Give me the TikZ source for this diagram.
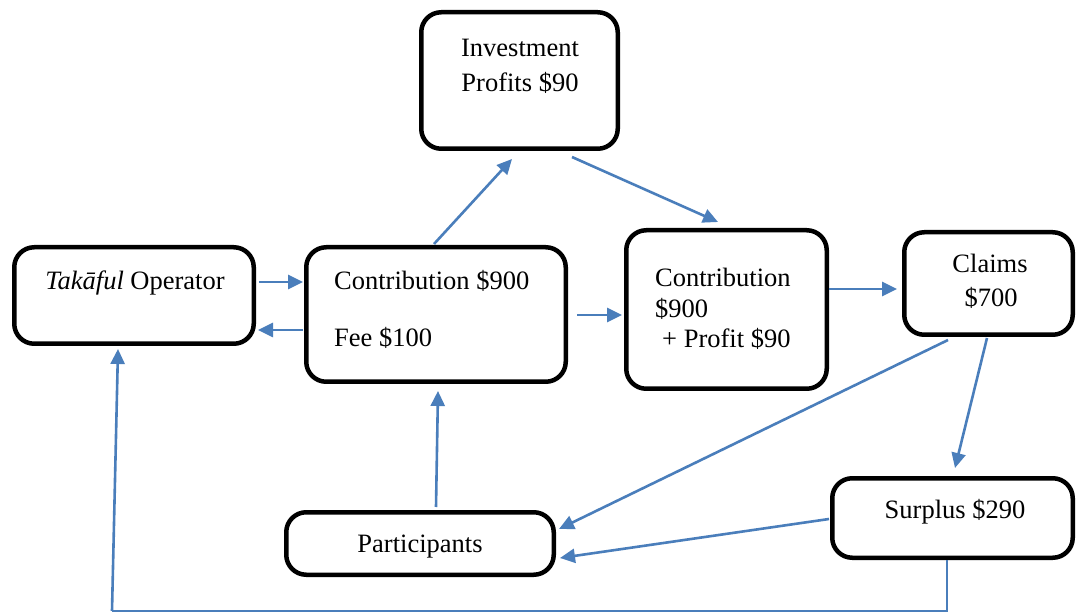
\documentclass[tikz,border=0pt]{standalone}
\usepackage{fontspec}
\setmainfont{Liberation Serif}
\usetikzlibrary{arrows.meta}
\definecolor{flow}{RGB}{74,126,187}
\begin{document}
\begin{tikzpicture}[x=1pt,y=-1pt,
  box/.style={draw=black,line width=4.5pt,rounded corners=20pt,fill=white,inner sep=0pt},
  lbl/.style={inner sep=0pt,font=\fontsize{26.5}{31}\selectfont},
  arr/.style={draw=flow,line width=2.6pt,-{Triangle[length=15pt,width=14pt]}},
  thin/.style={draw=flow,line width=1.4pt}]
\useasboundingbox (0,0) rectangle (1077,612);

% boxes
\node[box,minimum width=239.5pt,minimum height=96.5pt]  (tak) at (134,295.5) {};
\node[box,minimum width=259.5pt,minimum height=134.5pt] (con) at (436,314.5) {};
\node[box,minimum width=196.5pt,minimum height=136.5pt] (inv) at (519.5,80.5) {};
\node[box,minimum width=200.5pt,minimum height=158.5pt] (cp)  at (726.5,309.5) {};
\node[box,minimum width=168.5pt,minimum height=102.5pt] (clm) at (988.5,283.5) {};
\node[box,minimum width=240.5pt,minimum height=79.5pt]  (sur) at (952.5,518) {};
\node[box,minimum width=267.5pt,minimum height=62.5pt]  (par) at (420,543.5) {};

% texts
\node[lbl,anchor=base] (takT) at (135,290) {\textit{Takāful} Operator};
\node[lbl,anchor=base west] (conA) at (334,290) {Contribution \$900};
\node[lbl,anchor=base west] (conB) at (334,347) {Fee \$100};
\node[lbl,anchor=base] (invA) at (520,57) {Investment};
\node[lbl,anchor=base] (invB) at (520,92) {Profits \$90};
\node[lbl,anchor=base west] (cpA) at (655,287) {Contribution};
\node[lbl,anchor=base west] (cpB) at (655,318) {\$900};
\node[lbl,anchor=base west] (cpC) at (662,348) {+ Profit \$90};
\node[lbl,anchor=base] (clmA) at (990,273) {Claims};
\node[lbl,anchor=base] (clmB) at (991,307) {\$700};
\node[lbl,anchor=base] (surT) at (955,518) {Surplus \$290};
\node[lbl,anchor=base] (parT) at (420,552) {Participants};

% flows
\draw[arr] ([shift={(3,-13.5)}]tak.east) -- ([shift={(-1,-32.5)}]con.west);
\draw[arr] ([shift={(-1,15.5)}]con.west) -- ([shift={(2,34.5)}]tak.east);
\draw[arr] ([shift={(-2,-1)}]con.north) -- ([shift={(-7.5,8)}]inv.south);
\draw[arr] ([shift={(52.5,6)}]inv.south) -- ([shift={(-8.5,-6)}]cp.north);
\draw[arr] ([shift={(9,0.5)}]con.east) -- ([shift={(-2,5.5)}]cp.west);
\draw[arr] ([shift={(0,-20.5)}]cp.east) -- ([shift={(-5,5.5)}]clm.west);
\draw[arr] ([shift={(-40.5,3)}]clm.south) -- ([shift={(3,-14.5)}]par.east);
\draw[arr] ([shift={(-1.5,1)}]clm.south) -- ([shift={(2.5,-8)}]sur.north);
\draw[arr] ([shift={(-1,1)}]sur.west) -- ([shift={(4,14.5)}]par.east);
\draw[arr] ([shift={(16,-3)}]par.north) -- ([shift={(2,7)}]con.south);

% surplus share returned to the operator
\coordinate (loopR) at ([shift={(-5.5,51)}]sur.south);
\coordinate (loopL) at ([shift={(-22,265)}]tak.south);
\draw[thin] ([shift={(-5.5,0)}]sur.south) -- (loopR) -- (loopL);
\draw[arr] (loopL) -- ([shift={(-16,3)}]tak.south);
\end{tikzpicture}
\end{document}
